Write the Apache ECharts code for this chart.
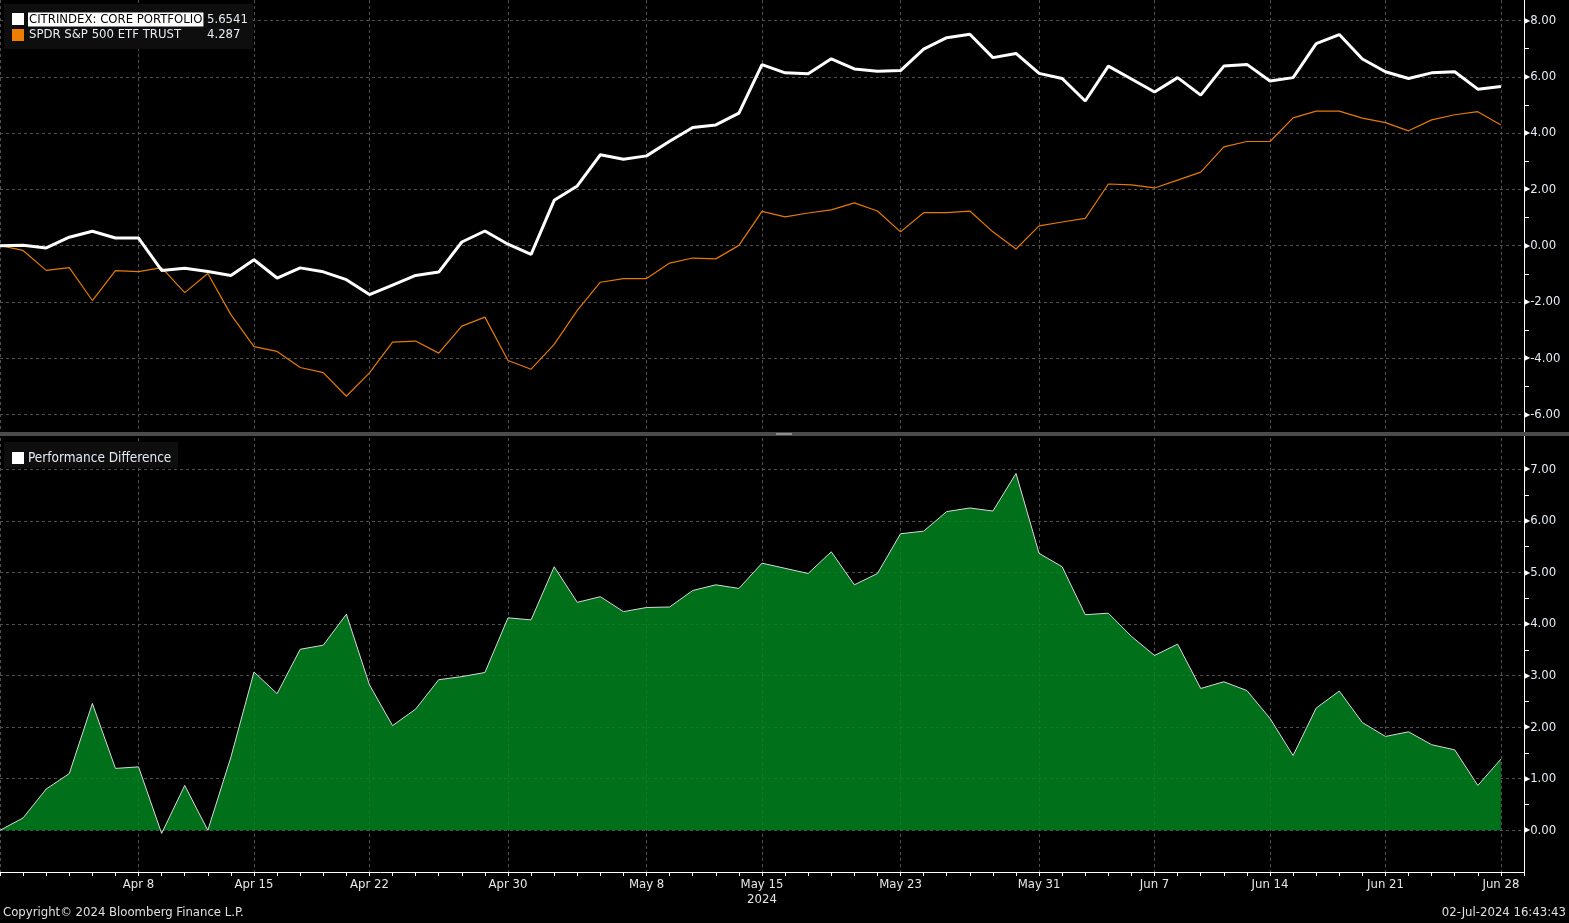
<!DOCTYPE html>
<html>
<head>
<meta charset="utf-8">
<script src="https://cdn.jsdelivr.net/npm/echarts@6/dist/echarts.min.js"></script>
<style>
  html, body { margin: 0; padding: 0; background: #000; }
  #main { width: 1569px; height: 923px; }
</style>
</head>
<body>
<div id="main"></div>
<script>
// weekday dates, Mar 29 - Jun 28 2024
var dates = ['Mar 29',
  'Apr 1','Apr 2','Apr 3','Apr 4','Apr 5','Apr 8','Apr 9','Apr 10','Apr 11','Apr 12',
  'Apr 15','Apr 16','Apr 17','Apr 18','Apr 19','Apr 22','Apr 23','Apr 24','Apr 25','Apr 26',
  'Apr 29','Apr 30','May 1','May 2','May 3','May 6','May 7','May 8','May 9','May 10',
  'May 13','May 14','May 15','May 16','May 17','May 20','May 21','May 22','May 23','May 24',
  'May 27','May 28','May 29','May 30','May 31','Jun 3','Jun 4','Jun 5','Jun 6','Jun 7',
  'Jun 10','Jun 11','Jun 12','Jun 13','Jun 14','Jun 17','Jun 18','Jun 19','Jun 20','Jun 21',
  'Jun 24','Jun 25','Jun 26','Jun 27','Jun 28'];
var tickDates = ['Apr 8','Apr 15','Apr 22','Apr 30','May 8','May 15','May 23','May 31','Jun 7','Jun 14','Jun 21','Jun 28'];

var citr = [0, 0.01, -0.08, 0.30, 0.51, 0.27, 0.27, -0.88, -0.80, -0.92, -1.06, -0.50, -1.15, -0.79, -0.93, -1.21, -1.74,
  -1.40, -1.06, -0.94, 0.13, 0.52, 0.05, -0.31, 1.61, 2.12, 3.23, 3.07, 3.19, 3.71, 4.20, 4.29, 4.71, 6.43, 6.14, 6.11, 6.64, 6.28, 6.20,
  6.22, 6.98, 7.39, 7.51, 6.68, 6.83, 6.12, 5.94, 5.14, 6.38, 5.92, 5.46, 5.97, 5.35, 6.38, 6.44, 5.85, 5.97, 7.18, 7.50, 6.63, 6.18, 5.94, 6.14, 6.18, 5.56, 5.654];
var spy = [0, -0.17, -0.88, -0.78, -1.95, -0.89, -0.92, -0.78, -1.67, -0.99, -2.45, -3.59, -3.76, -4.33, -4.51, -5.35, -4.52,
  -3.43, -3.39, -3.82, -2.86, -2.54, -4.08, -4.39, -3.51, -2.30, -1.30, -1.17, -1.17, -0.62, -0.44, -0.47, 0.01, 1.22, 1.02, 1.16, 1.27, 1.52, 1.23,
  0.49, 1.17, 1.17, 1.23, 0.49, -0.12, 0.70, 0.84, 0.97, 2.19, 2.16, 2.05, 2.33, 2.61, 3.51, 3.70, 3.70, 4.54, 4.78, 4.78, 4.53, 4.37, 4.08, 4.47, 4.65, 4.76, 4.287];
var diff = [0, 0.24, 0.80, 1.10, 2.46, 1.20, 1.23, -0.06, 0.87, 0.00, 1.42, 3.07, 2.65, 3.51, 3.59, 4.19, 2.82,
  2.03, 2.35, 2.92, 2.98, 3.06, 4.12, 4.08, 5.11, 4.42, 4.53, 4.24, 4.32, 4.33, 4.65, 4.76, 4.69, 5.18, 5.08, 4.98, 5.40, 4.76, 4.98,
  5.75, 5.80, 6.18, 6.25, 6.19, 6.92, 5.37, 5.11, 4.18, 4.21, 3.76, 3.39, 3.61, 2.75, 2.88, 2.71, 2.17, 1.45, 2.37, 2.70, 2.09, 1.82, 1.91, 1.66, 1.56, 0.87, 1.38];

var chart = echarts.init(document.getElementById('main'));
var cats = dates.concat(['']);   // one empty slot after Jun 28
var font = '"Liberation Sans Narrow", "Arial Narrow", "DejaVu Sans Condensed", sans-serif';
var gridLine = { show: true, lineStyle: { color: '#505050', type: [3, 3], width: 1 } };

function yLabel() {
  return {
    margin: 0,
    formatter: function (v) { return '{t|\u25B6}{n|' + v.toFixed(2) + '}'; },
    rich: {
      t: { fontFamily: 'DejaVu Sans', fontSize: 8, color: '#ffffff' },
      n: { fontFamily: font, fontSize: 13, color: '#e4ebf5' }
    }
  };
}

var option = {
  backgroundColor: '#000',
  animation: false,
  grid: [
    { left: 0, right: 45, top: 20.5, height: 394 },
    { left: 0, right: 45, top: 469.3, height: 361 },
    { left: 0, right: 45, top: 0, height: 872 }
  ],
  xAxis: [
    { gridIndex: 0, type: 'category', data: cats, boundaryGap: false, show: false },
    { gridIndex: 1, type: 'category', data: cats, boundaryGap: false, show: false },
    {
      gridIndex: 2, type: 'category', data: cats, boundaryGap: false,
      axisLine: { lineStyle: { color: '#ffffff', width: 1 } },
      axisTick: { interval: 0, length: 4, lineStyle: { color: '#ffffff' } },
      axisLabel: {
        interval: function (i, v) { return tickDates.indexOf(v) >= 0; },
        formatter: function (v) { return v === 'May 15' ? v + '\n2024' : v; },
        color: '#e6e6e6', fontSize: 13, fontFamily: font, margin: 5, lineHeight: 15
      },
      splitLine: {
        show: true,
        interval: function (i, v) { return i === 0 || tickDates.indexOf(v) >= 0; },
        lineStyle: { color: '#505050', type: [3, 3], width: 1 }
      }
    }
  ],
  yAxis: [
    {
      gridIndex: 0, type: 'value', position: 'right', min: -6, max: 8, interval: 2,
      axisLine: { show: false }, axisTick: { show: false },
      minorTick: { show: true, splitNumber: 2, length: 5, lineStyle: { color: '#ffffff' } },
      axisLabel: yLabel(), splitLine: gridLine
    },
    {
      gridIndex: 1, type: 'value', position: 'right', min: 0, max: 7, interval: 1,
      axisLine: { show: false }, axisTick: { show: false },
      minorTick: { show: true, splitNumber: 2, length: 5, lineStyle: { color: '#ffffff' } },
      axisLabel: yLabel(), splitLine: gridLine
    },
    {
      gridIndex: 2, type: 'value', position: 'right', min: 0, max: 1,
      axisLine: { show: true, lineStyle: { color: '#ffffff', width: 1 } },
      axisTick: { show: false }, axisLabel: { show: false }, splitLine: { show: false }
    }
  ],
  series: [
    {
      name: 'SPDR S&P 500 ETF TRUST', type: 'line', xAxisIndex: 0, yAxisIndex: 0,
      data: spy, symbol: 'none', z: 3,
      lineStyle: { color: '#e67a00', width: 1.2 }
    },
    {
      name: 'CITRINDEX: CORE PORTFOLIO', type: 'line', xAxisIndex: 0, yAxisIndex: 0,
      data: citr, symbol: 'none', z: 4,
      lineStyle: { color: '#ffffff', width: 3 }
    },
    {
      name: 'Performance Difference', type: 'line', xAxisIndex: 1, yAxisIndex: 1,
      data: diff, symbol: 'none', clip: false,
      lineStyle: { color: '#d8d8d8', width: 1 },
      areaStyle: { color: '#00841f', opacity: 0.85 }
    }
  ],
  graphic: [
    // separator between panels
    { type: 'rect', z: 50, shape: { x: 0, y: 432, width: 1569, height: 4 }, style: { fill: '#4b4b4b' } },
    { type: 'rect', z: 51, shape: { x: 776, y: 433, width: 16, height: 2 }, style: { fill: '#8c8c8c' } },
    // top legend
    { type: 'rect', z: 50, shape: { x: 4, y: 4, width: 249, height: 45 }, style: { fill: '#0e0e0e' } },
    { type: 'rect', z: 51, shape: { x: 12, y: 13, width: 12, height: 12 }, style: { fill: '#ffffff' } },
    { type: 'rect', z: 51, shape: { x: 12, y: 29, width: 12, height: 12 }, style: { fill: '#f07d00' } },
    { type: 'text', z: 51, x: 28, y: 19.5, style: { text: 'CITRINDEX: CORE PORTFOLIO', fill: '#000', backgroundColor: '#fff', padding: [1, 1, 0, 1], font: '13px ' + font, verticalAlign: 'middle' } },
    { type: 'text', z: 51, x: 207, y: 19.5, style: { text: '5.6541', fill: '#e4ebf5', font: '13px ' + font, verticalAlign: 'middle' } },
    { type: 'text', z: 51, x: 29, y: 35, style: { text: 'SPDR S&P 500 ETF TRUST', fill: '#e4ebf5', font: '13px ' + font, verticalAlign: 'middle' } },
    { type: 'text', z: 51, x: 207, y: 35, style: { text: '4.287', fill: '#e4ebf5', font: '13px ' + font, verticalAlign: 'middle' } },
    // bottom legend
    { type: 'rect', z: 50, shape: { x: 4, y: 442, width: 174, height: 26 }, style: { fill: '#0e0e0e' } },
    { type: 'rect', z: 51, shape: { x: 12, y: 452, width: 12, height: 12 }, style: { fill: '#ffffff' } },
    { type: 'text', z: 51, x: 28, y: 458, style: { text: 'Performance Difference', fill: '#e4ebf5', font: '13.5px ' + font, verticalAlign: 'middle' } },
    // footer
    { type: 'text', z: 51, x: 3, y: 913, style: { text: 'Copyright\u00A9 2024 Bloomberg Finance L.P.', fill: '#e0e0e0', font: '13px ' + font, verticalAlign: 'middle' } },
    { type: 'text', z: 51, x: 1566, y: 913, style: { text: '02-Jul-2024 16:43:43', fill: '#e0e0e0', font: '13px ' + font, align: 'right', verticalAlign: 'middle' } }
  ]
};
chart.setOption(option);
</script>
</body>
</html>
